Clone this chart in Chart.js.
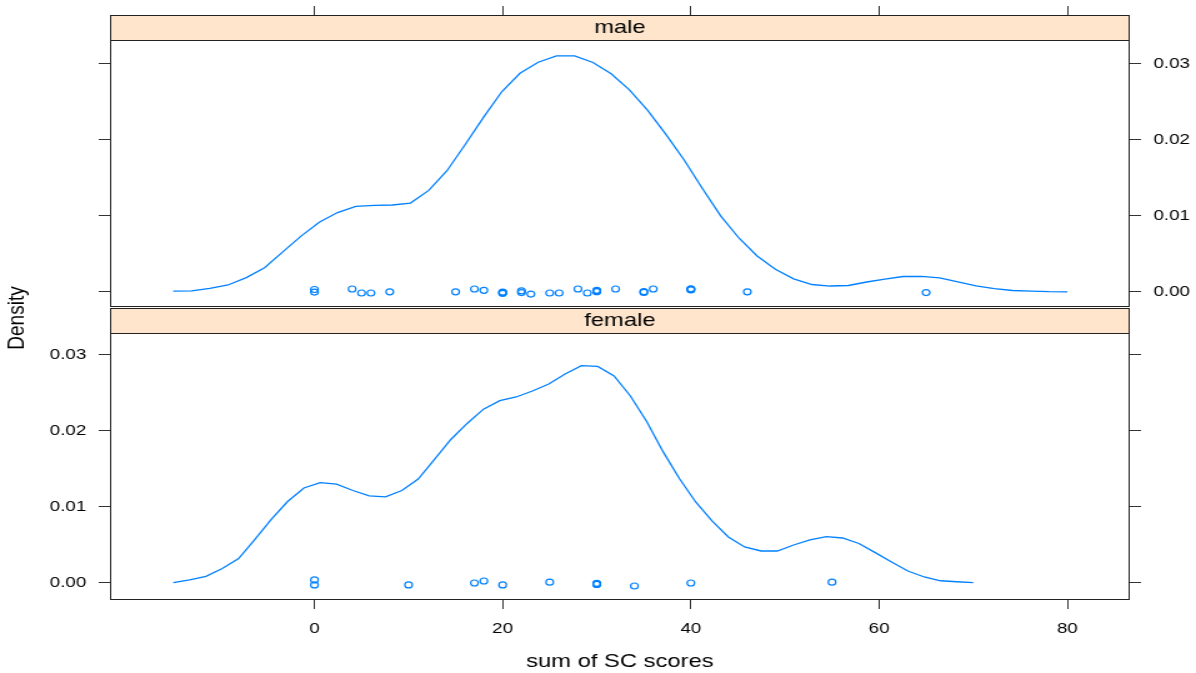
<!DOCTYPE html>
<html>
<head>
<meta charset="utf-8">
<script src="https://cdn.jsdelivr.net/npm/chart.js@4"></script>
<style>
html, body { margin: 0; padding: 0; background: #fff; }
#wrap { position: relative; width: 1196px; height: 673px; }
canvas { position: absolute; left: 0; top: 0; width: 1196px !important; height: 673px !important; }
</style>
</head>
<body>
<div id="wrap">
<canvas id="graficoMale" width="957" height="673" style="width:1196px;height:673px"></canvas>
<canvas id="graficoFemale" width="957" height="673" style="width:1196px;height:673px"></canvas>
</div>
<script>
var corAzul = '#0080ff';
var fonte = '"Liberation Sans", Arial, Helvetica, sans-serif';
var xTicks = [0, 20, 40, 60, 80];
var yTicks = [0, 0.01, 0.02, 0.03];
var paineis = ['male', 'female'];

// curva de densidade - male
var maleX = [-15, -13.061, -11.122, -9.184, -7.245, -5.306, -3.367, -1.429, 0.510, 2.449,
    4.388, 6.327, 8.265, 10.204, 12.143, 14.082, 16.020, 17.959, 19.898, 21.837,
    23.776, 25.714, 27.653, 29.592, 31.531, 33.469, 35.408, 37.347, 39.286, 41.224,
    43.163, 45.102, 47.041, 48.980, 50.918, 52.857, 54.796, 56.735, 58.673, 60.612,
    62.551, 64.490, 66.429, 68.367, 70.306, 72.245, 74.184, 76.122, 78.061, 80];
var maleDens = [0.0001, 0.00012, 0.00046, 0.0009, 0.00186, 0.00316, 0.00526, 0.00733, 0.00916, 0.01043,
    0.01124, 0.01138, 0.01142, 0.01168, 0.01334, 0.01593, 0.01938, 0.02295, 0.02632, 0.02875,
    0.0302, 0.03103, 0.03103, 0.03017, 0.02868, 0.02658, 0.02387, 0.02071, 0.01734, 0.0136,
    0.01, 0.00708, 0.00471, 0.00296, 0.00171, 0.00096, 0.00076, 0.00083, 0.00129, 0.00168,
    0.00201, 0.00204, 0.00182, 0.00129, 0.00079, 0.00043, 0.00017, 0.0001, 0.00002, 0];

// curva de densidade - female
var femaleX = [-15, -13.265, -11.531, -9.796, -8.061, -6.327, -4.592, -2.857, -1.122, 0.612,
    2.347, 4.082, 5.816, 7.551, 9.286, 11.020, 12.755, 14.490, 16.224, 17.959,
    19.694, 21.429, 23.163, 24.898, 26.633, 28.367, 30.102, 31.837, 33.571, 35.306,
    37.041, 38.776, 40.510, 42.245, 43.980, 45.714, 47.449, 49.184, 50.918, 52.653,
    54.388, 56.122, 57.857, 59.592, 61.327, 63.061, 64.796, 66.531, 68.265, 70];
var femaleDens = [0.00004, 0.00042, 0.00088, 0.00191, 0.00322, 0.00575, 0.00836, 0.01072, 0.0125, 0.0132,
    0.0130, 0.01217, 0.01145, 0.01132, 0.01217, 0.01368, 0.01625, 0.01888, 0.02099, 0.02287,
    0.02399, 0.02447, 0.02526, 0.02618, 0.0275, 0.02859, 0.0285, 0.02724, 0.0246, 0.02125,
    0.01728, 0.01375, 0.01066, 0.00816, 0.00605, 0.00474, 0.00421, 0.00421, 0.005, 0.00566,
    0.00609, 0.00592, 0.0052, 0.00399, 0.00276, 0.00158, 0.00079, 0.00029, 0.00016, 0.00004];

// observacoes (com jitter vertical)
var maleObsX = [0, 0, 4, 5, 6, 8, 15, 17, 18, 20, 20, 20, 22, 22, 23, 25, 26, 28, 29, 30, 30, 30, 32, 35, 35, 36, 40, 40, 40, 46, 65];
var maleObsY = [0.0003, -0.00003, 0.00037, -0.00016, -0.00016, 0, 0, 0.00037, 0.0002, -0.00005, -0.00012, -0.0002, 0.00012, -0.0001, -0.0003, -0.00016, -0.00016, 0.00037, -0.00016, 0.00002, 0.0001, 0.0002, 0.00037, 0.00002, -0.00008, 0.00037, 0.00025, 0.00033, 0.0004, 0, -0.0001];
var femaleObsX = [0, 0, 10, 17, 18, 20, 25, 30, 30, 30, 34, 40, 55];
var femaleObsY = [0.0004, -0.00026, -0.00026, 0, 0.00026, -0.00026, 0.0001, -0.00006, -0.00013, -0.0002, -0.0004, 0, 0.0001];

function pares(xs, ys) {
    return xs.map(function(v, i) { return {x: v, y: ys[i]}; });
}

function semPadding(s) {
    s.paddingTop = 0;
    s.paddingBottom = 0;
    s.paddingLeft = 0;
    s.paddingRight = 0;
}

const pluginPainel = {
    id: 'painel',
    beforeDatasetsDraw(chart, args, opts) {
        const a = chart.chartArea, ctx = chart.ctx;
        ctx.save();
        ctx.fillStyle = '#ffe5cc';
        ctx.fillRect(a.left, a.top, a.right - a.left, 25);
        ctx.strokeStyle = '#222';
        ctx.lineWidth = 1;
        ctx.beginPath();
        ctx.moveTo(a.left, a.top + 25.5);
        ctx.lineTo(a.right, a.top + 25.5);
        ctx.stroke();
        ctx.fillStyle = '#000';
        ctx.font = '19px ' + fonte;
        ctx.textAlign = 'center';
        ctx.textBaseline = 'middle';
        ctx.fillText(opts.titulo, (a.left + a.right) / 2, a.top + 13);
        ctx.restore();
    },
    afterDraw(chart, args, opts) {
        const a = chart.chartArea, ctx = chart.ctx;
        ctx.save();
        ctx.strokeStyle = '#222';
        ctx.lineWidth = 1;
        ctx.strokeRect(a.left + 0.5, a.top + 0.5, a.right - a.left - 1, a.bottom - a.top - 1);
        if (opts.rotuloY) {
            ctx.fillStyle = '#000';
            ctx.font = '19px ' + fonte;
            ctx.textAlign = 'center';
            ctx.textBaseline = 'middle';
            ctx.translate(14, 318);
            ctx.rotate(-Math.PI / 2);
            ctx.fillText(opts.rotuloY, 0, 0);
        }
        ctx.restore();
    }
};

function escalaY(pos, mostrar, min, max, largura) {
    return {
        type: 'linear', position: pos, min: min, max: max,
        afterBuildTicks: function(s) { s.ticks = yTicks.map(function(v) { return {value: v}; }); },
        afterFit: function(s) { s.width = largura; semPadding(s); },
        grid: {display: true, drawOnChartArea: false, drawTicks: true, tickLength: 9, color: '#333'},
        border: {display: false},
        ticks: {display: mostrar, padding: 10, color: '#000', font: {family: fonte, size: 15},
            callback: function(v) { return v.toFixed(2); }}
    };
}

function escalaX(pos, mostrar, altura) {
    var e = {
        type: 'linear', position: pos, min: -21.73, max: 86.64,
        afterBuildTicks: function(s) { s.ticks = xTicks.map(function(v) { return {value: v}; }); },
        afterFit: function(s) { s.height = altura; semPadding(s); },
        grid: {display: true, drawOnChartArea: false, drawTicks: true, tickLength: 9, color: '#333'},
        border: {display: false},
        ticks: {display: mostrar, padding: 11, color: '#000', font: {family: fonte, size: 15}, maxRotation: 0}
    };
    if (mostrar) {
        e.title = {display: true, text: 'sum of SC scores', color: '#000', font: {family: fonte, size: 19}, padding: 0};
    }
    return e;
}

function datasets(xs, dens, ox, oy, eixoY) {
    return [
        {data: pares(xs, dens), showLine: true, borderColor: corAzul, borderWidth: 1.3, pointRadius: 0,
            fill: false, tension: 0, xAxisID: 'x', yAxisID: eixoY},
        {data: pares(ox, oy), showLine: false, pointRadius: 3, pointBorderWidth: 1.2,
            pointBorderColor: corAzul, pointBackgroundColor: 'rgba(0,0,0,0)', xAxisID: 'x', yAxisID: eixoY}
    ];
}

function MontaGraficos() {
    new Chart(document.getElementById('graficoMale'), {
        type: 'scatter',
        data: {datasets: datasets(maleX, maleDens, maleObsX, maleObsY, 'yr')},
        options: {
            responsive: false, animation: false, devicePixelRatio: 1,
            layout: {padding: {left: 79, right: 0, top: 0, bottom: 366}},
            plugins: {legend: {display: false}, tooltip: {enabled: false}, painel: {titulo: paineis[0]}},
            scales: {
                x: escalaX('top', false, 15),
                yl: escalaY('left', false, -0.0020, 0.03642, 9),
                yr: escalaY('right', true, -0.0020, 0.03642, 53)
            }
        },
        plugins: [pluginPainel]
    });

    new Chart(document.getElementById('graficoFemale'), {
        type: 'scatter',
        data: {datasets: datasets(femaleX, femaleDens, femaleObsX, femaleObsY, 'yl')},
        options: {
            responsive: false, animation: false, devicePixelRatio: 1,
            layout: {padding: {left: 0, right: 44, top: 308, bottom: 0}},
            plugins: {legend: {display: false}, tooltip: {enabled: false}, painel: {titulo: paineis[1], rotuloY: 'Density'}},
            scales: {
                x: escalaX('bottom', true, 73),
                yl: escalaY('left', true, -0.00224, 0.03618, 88),
                yr: escalaY('right', false, -0.00224, 0.03618, 9)
            }
        },
        plugins: [pluginPainel]
    });
}

MontaGraficos();
</script>
</body>
</html>
